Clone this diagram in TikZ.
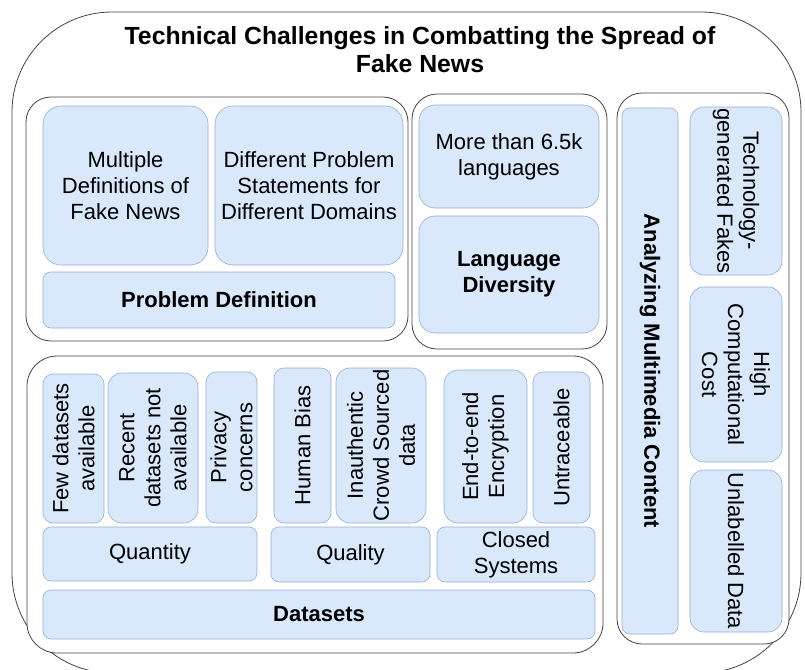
\documentclass[tikz,border=0pt]{standalone}
\usepackage{fontspec}
\setmainfont{Liberation Sans}
\definecolor{boxfill}{HTML}{DAE8FC}
\definecolor{boxline}{HTML}{94AED3}
\definecolor{frameline}{HTML}{444444}
\tikzset{
  txt/.style={font=\fontsize{22}{26}\selectfont, align=center, inner sep=0pt},
  box/.style={txt, draw=boxline, fill=boxfill, line width=0.6pt, rounded corners=#1},
  box/.default=10pt,
  group/.style={draw=frameline, fill=white, line width=0.8pt, rounded corners=#1, inner sep=0pt},
  group/.default=25pt,
  bold/.style={font=\fontsize{22}{26}\selectfont\bfseries}
}
\begin{document}
\begin{tikzpicture}[x=1pt,y=-1pt]
\clip (0,0) rectangle (805,669);
\fill[white] (0,0) rectangle (805,669);
% outer frame
\node[group=100pt, minimum width=789pt, minimum height=661pt] (frame) at (406.5,342.5) {};
\node[txt, font=\fontsize{24.8}{28}\selectfont\bfseries] (title) at (420,50)
  {Technical Challenges in Combatting the Spread of\\Fake News};

% Problem definition
\node[group, minimum width=382pt, minimum height=244pt] (pdg) at (217,219) {};
\node[box=18pt, minimum width=165pt, minimum height=159pt] (mult) at (125.5,185.5)
  {Multiple\\Definitions of\\Fake News};
\node[box=18pt, minimum width=188pt, minimum height=159pt] (diff) at (309,185.5)
  {Different Problem\\Statements for\\Different Domains};
\node[box=8pt, bold, minimum width=352pt, minimum height=56pt] (pdef) at (219,300)
  {Problem Definition};

% Language diversity
\node[group, minimum width=195pt, minimum height=255pt] (ldg) at (509.5,221.5) {};
\node[box=16pt, minimum width=180pt, minimum height=103pt] (more) at (509,156.5)
  {More than 6.5k\\languages};
\node[box=16pt, bold, minimum width=180pt, minimum height=117pt] (ldiv) at (509,274.5)
  {Language\\Diversity};

% Multimedia
\node[group, minimum width=172pt, minimum height=551pt] (mmg) at (703,368.5) {};
\node[box=8pt, bold, rotate=-90, minimum width=526pt, minimum height=56pt] (amc) at (650,371)
  {Analyzing Multimedia Content};
\node[box=14pt, rotate=-90, minimum width=168pt, minimum height=92pt] (tech) at (736,191)
  {Technology-\\generated Fakes};
\node[box=14pt, rotate=-90, minimum width=175pt, minimum height=92pt] (high) at (736,374.5)
  {High\\Computational\\Cost};
\node[box=14pt, rotate=-90, minimum width=162pt, minimum height=92pt] (unl) at (736,551)
  {Unlabelled Data};

% Datasets
\node[group=30pt, minimum width=576pt, minimum height=297pt] (dsg) at (315,504.5) {};
\node[box=10pt, rotate=90, minimum width=149pt, minimum height=61pt] (few) at (73.5,448.5)
  {Few datasets\\available};
\node[box=14pt, rotate=90, minimum width=150pt, minimum height=90pt] (rec) at (153,448)
  {Recent\\datasets not\\available};
\node[box=10pt, rotate=90, minimum width=151pt, minimum height=51pt] (priv) at (231.5,447.5)
  {Privacy\\concerns};
\node[box=10pt, rotate=90, minimum width=155pt, minimum height=57pt] (hum) at (302.5,445.5)
  {Human Bias};
\node[box=14pt, rotate=90, minimum width=155pt, minimum height=90pt] (inau) at (381,445.5)
  {Inauthentic\\Crowd Sourced\\data};
\node[box=14pt, rotate=90, minimum width=153pt, minimum height=83pt] (e2e) at (485.5,446.5)
  {End-to-end\\Encryption};
\node[box=10pt, rotate=90, minimum width=151pt, minimum height=57pt] (untr) at (561.5,447.5)
  {Untraceable};
\node[box=8pt, minimum width=214pt, minimum height=54pt] (quan) at (150,554) {Quantity};
\node[box=8pt, minimum width=159pt, minimum height=55pt] (qual) at (350.5,554.5) {Quality};
\node[box=8pt, minimum width=158pt, minimum height=55pt] (clos) at (516,554.5) {Closed\\Systems};
\node[box=8pt, bold, minimum width=552pt, minimum height=49pt] (dset) at (319,614.5) {Datasets};
\end{tikzpicture}
\end{document}
